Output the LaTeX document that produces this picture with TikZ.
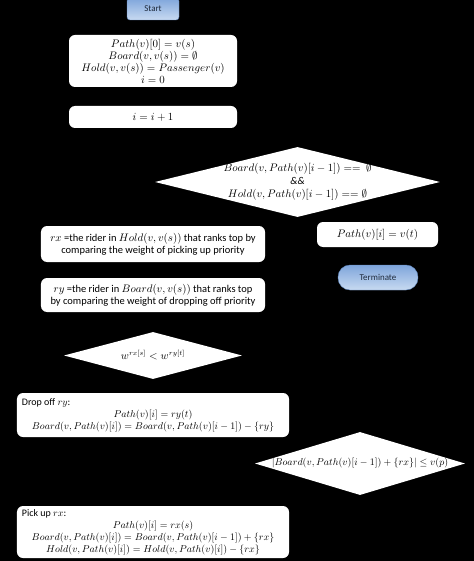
\documentclass[tikz,border=0pt]{standalone}
\usepackage{amssymb}
\usepackage{fontspec}
\setmainfont{Carlito}
\usetikzlibrary{shapes.geometric}
\definecolor{termtop}{RGB}{126,165,219}
\definecolor{termbot}{RGB}{200,218,241}
\definecolor{termline}{RGB}{96,135,190}
\definecolor{termtext}{RGB}{30,42,60}
\begin{document}
\begin{tikzpicture}[x=1bp,y=-1bp,
  every node/.style={font=\fontsize{10.5}{12}\selectfont},
  stepbox/.style={fill=white,rounded corners=6bp,align=center,inner sep=0pt},
  check/.style={diamond,fill=white,inner sep=0pt},
  terminal/.style={rounded corners=#1,top color=termtop,bottom color=termbot,
    draw=termline,line width=0.4bp,text=termtext,inner sep=0pt,
    font=\fontsize{9}{10}\selectfont}]
\fill[black] (0,0) rectangle (474,561);
\useasboundingbox (0,0) rectangle (474,561);

% start and set-up
\node[terminal=3bp,minimum width=52bp,minimum height=22bp] (start) at (153,9) {Start};
\node[stepbox,minimum width=168bp,minimum height=52bp] (init) at (153,61)
  {$Path(v)[0]=v(s)$\\ $Board(v,v(s))=\emptyset$\\ $Hold(v,v(s))=Passenger(v)$\\ $i=0$};
\node[stepbox,minimum width=168bp,minimum height=22bp] (incr) at (153,117) {$i=i+1$};

% empty check
\node[check,minimum width=285bp,minimum height=70bp,
  label={[align=center,font=\fontsize{10.5}{13}\selectfont]center:{$Board(v,Path(v)[i-1])==\ \emptyset$\\ \textit{\&\&}\\ $Hold(v,Path(v)[i-1])==\emptyset$}}]
  (empty) at (297.5,182) {};
\node[stepbox,minimum width=121bp,minimum height=25bp] (final) at (377.5,234.5) {$Path(v)[i]=v(t)$};
\node[terminal=12bp,minimum width=80bp,minimum height=25bp] (term) at (378,277.5) {Terminate};

% choose riders
\node[stepbox,minimum width=224bp,minimum height=36bp] (rx) at (153,244)
  {$rx$ =the rider in $Hold(v,v(s))$ that ranks top by\\ comparing the weight of picking up priority};
\node[stepbox,minimum width=224bp,minimum height=34bp] (ry) at (153,295)
  {$ry$ =the rider in $Board(v,v(s))$ that ranks top\\ by comparing the weight of dropping off priority};
\node[check,minimum width=178bp,minimum height=47bp,
  label={center:{$w^{rx[s]}<w^{ry[t]}$}}] (weight) at (153,355.5) {};

% drop off / pick up
\node[stepbox,minimum width=272bp,minimum height=44bp,font=\fontsize{10}{12}\selectfont] (drop) at (153,415)
  {\makebox[262bp][l]{Drop off $ry$:}\\ $Path(v)[i]=ry(t)$\\ $Board(v,Path(v)[i])=Board(v,Path(v)[i-1])-\{ry\}$};
\node[check,minimum width=210bp,minimum height=63bp,
  label={[font=\fontsize{10}{12}\selectfont]center:{$|Board(v,Path(v)[i-1])+\{rx\}|\le v(p)$}}] (cap) at (360,463.5) {};
\node[stepbox,minimum width=272bp,minimum height=52bp,font=\fontsize{10}{12}\selectfont] (pick) at (153,532)
  {\makebox[262bp][l]{Pick up $rx$:}\\ $Path(v)[i]=rx(s)$\\ $Board(v,Path(v)[i])=Board(v,Path(v)[i-1])+\{rx\}$\\ $Hold(v,Path(v)[i])=Hold(v,Path(v)[i])-\{rx\}$};
\end{tikzpicture}
\end{document}
